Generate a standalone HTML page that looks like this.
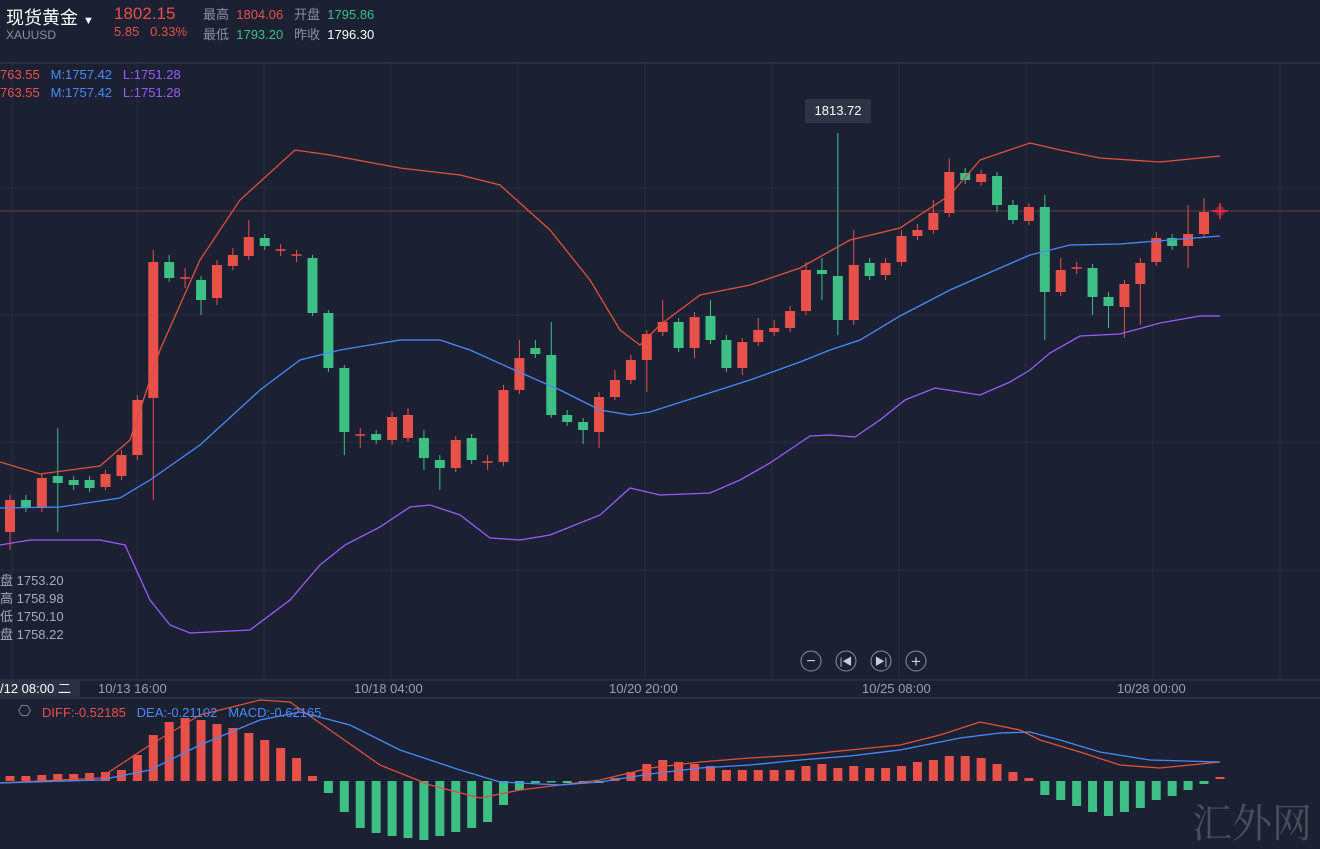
<!DOCTYPE html><html><head><meta charset="utf-8"><style>
body{margin:0;background:#1b2132;width:1320px;height:846px;overflow:hidden;font-family:"Liberation Sans","Noto Sans CJK SC",sans-serif}
.t{position:absolute;white-space:nowrap;font-size:13px}
</style></head><body>
<svg id="s" width="1320" height="846" style="position:absolute;left:0;top:0"></svg>
<div class="t" style="left:6px;top:4px;font-size:18px;color:#fff">现货黄金 <span style="font-size:11px">▼</span></div>
<div class="t" style="left:6px;top:28px;color:#8a90a0;font-size:12px">XAUUSD</div>
<div class="t" style="left:114px;top:4px;font-size:17px;color:#e8504a">1802.15</div>
<div class="t" style="left:114px;top:24px;color:#e8504a">5.85 &nbsp;&nbsp;0.33%</div>
<div class="t" style="left:203px;top:4px;color:#8a90a0">最高 <span style="color:#e8504a">&nbsp;1804.06</span> &nbsp;&nbsp;开盘 <span style="color:#3dbf86">&nbsp;1795.86</span></div>
<div class="t" style="left:203px;top:24px;color:#8a90a0">最低 <span style="color:#3dbf86">&nbsp;1793.20</span> &nbsp;&nbsp;昨收 <span style="color:#fff">&nbsp;1796.30</span></div>
<div class="t" style="left:0;top:67px;color:#e8504a">763.55 &nbsp;&nbsp;<span style="color:#4a8aff">M:1757.42</span> &nbsp;&nbsp;<span style="color:#9b5cff">L:1751.28</span></div>
<div class="t" style="left:0;top:85px;color:#e8504a">763.55 &nbsp;&nbsp;<span style="color:#4a8aff">M:1757.42</span> &nbsp;&nbsp;<span style="color:#9b5cff">L:1751.28</span></div>
<div class="t" style="left:0;top:572px;color:#aab;line-height:18px">盘 1753.20<br>高 1758.98<br>低 1750.10<br>盘 1758.22</div>
<div class="t" style="left:0;top:680px;width:80px;height:18px;background:#2a3142;color:#fff;line-height:18px">/12 08:00 二</div>
<div class="t" style="left:98px;top:681px;color:#9aa0b0">10/13 16:00</div>
<div class="t" style="left:354px;top:681px;color:#9aa0b0">10/18 04:00</div>
<div class="t" style="left:609px;top:681px;color:#9aa0b0">10/20 20:00</div>
<div class="t" style="left:862px;top:681px;color:#9aa0b0">10/25 08:00</div>
<div class="t" style="left:1117px;top:681px;color:#9aa0b0">10/28 00:00</div>
<div class="t" style="left:42px;top:705px;color:#e8504a">DIFF:-0.52185 &nbsp;&nbsp;<span style="color:#4a8aff">DEA:-0.21102 &nbsp;&nbsp;MACD:-0.62165</span></div>
<div class="t" style="left:18px;top:702px;color:#889;font-size:15px">⎔</div>
<div class="t" style="left:805px;top:99px;width:66px;height:24px;background:#2c3446;color:#fff;line-height:24px;text-align:center">1813.72</div>
<div class="t" style="left:1192px;top:792px;font-size:40px;color:#4a4f5c;font-family:'Noto Serif CJK SC',serif">汇外网</div>
<script>
const s=document.getElementById('s');let h='';
const L=(x1,y1,x2,y2,c,w)=>h+=`<line x1="${x1}" y1="${y1}" x2="${x2}" y2="${y2}" stroke="${c}" stroke-width="${w||1}"/>`;
[12,137,264,391,518,645,772,899,1026,1153,1280].forEach(x=>L(x,63,x,680,'#262d3e'));
[188,315,442,570].forEach(y=>L(0,y,1320,y,'#262d3e'));
L(0,63,1320,63,'#3a4152');L(0,680,1320,680,'#2f3647');L(0,698,1320,698,'#3a4152');
L(0,211,1320,211,'#6a3a40');
const R='#e8504a',G='#3dbf86';
const c=[['r',500,532,495,550],['g',500,508,495,512],['r',478,508,474,512],['g',476,483,428,532],['g',480,485,476,490],['g',480,488,476,492],['r',474,487,470,490],['r',455,476,450,480],['r',400,455,395,460],['r',262,398,250,500],['g',262,278,255,282],['d',278,278,268,288],['g',280,300,276,315],['r',265,298,260,305],['r',255,266,248,270],['r',237,256,220,260],['g',238,246,234,250],['d',250,250,244,256],['d',255,255,250,262],['g',258,313,255,316],['g',313,368,310,372],['g',368,432,365,455],['d',435,435,428,448],['g',434,440,430,444],['r',417,440,412,445],['r',415,438,408,442],['g',438,458,430,470],['g',460,468,455,490],['r',440,468,436,472],['g',438,460,434,464],['d',462,462,455,470],['r',390,462,385,466],['r',358,390,340,394],['g',348,354,340,358],['g',355,415,322,418],['g',415,422,410,426],['g',422,430,418,444],['r',397,432,392,448],['r',380,397,370,400],['r',360,380,355,384],['r',334,360,330,392],['r',322,332,300,336],['g',322,348,318,352],['r',317,348,312,358],['g',316,340,300,344],['g',340,368,335,372],['r',342,368,338,375],['r',330,342,318,346],['r',328,332,320,336],['r',311,328,306,332],['r',270,311,262,315],['g',270,274,258,300],['g',276,320,133,335],['r',265,320,230,325],['g',263,276,258,280],['r',263,275,258,280],['r',236,262,230,266],['r',230,236,224,240],['r',213,230,200,234],['r',172,213,158,217],['g',173,180,168,184],['r',174,182,170,186],['g',176,205,172,212],['g',205,220,200,224],['r',207,221,203,225],['g',207,292,195,340],['r',270,292,258,296],['d',268,268,262,274],['g',268,297,264,315],['g',297,306,292,328],['r',284,307,280,338],['r',263,284,258,325],['r',238,262,232,266],['g',238,246,234,250],['r',234,246,205,268],['r',212,234,198,238]];
const mac=[776,776,775,774,774,773,772,770,755,735,722,718,720,724,728,733,740,748,758,776,793,812,828,833,836,838,840,836,832,828,822,805,790,783,782,783,782,783,778,772,764,760,762,764,766,770,770,770,770,770,766,764,768,766,768,768,766,762,760,756,756,758,764,772,778,795,800,806,812,816,812,808,800,796,790,784];
c.forEach((d,i)=>{const x=10+i*15.92;const col=d[0]=='g'?G:R;
L(x,d[3],x,d[4],col);
if(d[0]=='d')L(x-5,d[1],x+5,d[1],col,1.5);else h+=`<rect x="${x-5}" y="${d[1]}" width="10" height="${Math.max(d[2]-d[1],1)}" fill="${col}"/>`;
const m=mac[i];const z=781;h+=`<rect x="${x-4.5}" y="${Math.min(m,z)}" width="9" height="${Math.max(Math.abs(m-z),1.5)}" fill="${m<z?R:G}"/>`;});
h+=`<rect x="1215.5" y="777" width="9" height="2" fill="${R}"/>`;
const P=(pts,col)=>h+=`<polyline fill="none" stroke="${col}" stroke-width="1.3" points="${pts}"/>`;
P('0,462 40,474 100,466 130,440 160,350 200,260 240,200 295,150 330,155 400,168 460,175 500,185 550,230 590,280 620,330 640,345 660,325 700,295 750,285 800,268 850,240 900,228 950,195 980,160 1030,143 1060,150 1100,158 1160,162 1220,156','#e0503a');
P('0,508 60,507 120,498 150,480 200,445 260,390 300,360 340,350 400,340 440,340 470,350 510,368 560,390 600,410 630,415 650,412 700,396 750,380 800,362 830,350 860,340 900,316 950,290 1000,268 1030,255 1070,245 1120,244 1170,240 1220,236','#4a8aff');
P('0,545 30,540 100,540 125,545 150,600 170,625 190,633 250,630 290,600 320,565 345,545 380,527 410,507 430,505 460,515 490,538 520,540 550,535 600,515 630,488 660,495 710,493 740,480 770,463 810,436 830,435 855,437 880,420 905,400 935,388 980,395 1010,382 1030,370 1050,353 1080,336 1120,334 1160,323 1200,316 1220,316','#9b5cff');
P('0,783 100,778 150,745 200,715 260,700 290,702 330,730 380,765 430,785 480,798 520,790 560,785 600,780 650,768 700,762 750,758 800,755 850,750 900,745 940,735 980,722 1020,730 1040,740 1080,752 1120,765 1160,768 1220,762','#e0503a');
P('0,783 100,780 150,770 200,745 260,720 300,712 350,725 400,750 460,770 500,782 560,785 600,782 650,774 700,768 750,765 800,760 850,756 900,750 960,738 1000,733 1030,732 1060,740 1100,752 1150,760 1220,762','#4a8aff');
L(1212,211,1228,211,'#ff3040',1.5);L(1220,203,1220,219,'#ff3040',1.5);
h+=`<circle cx="1220" cy="211" r="5" fill="#ff3040" opacity=".4"/>`;
[811,846,881,916].forEach((x,i)=>{h+=`<circle cx="${x}" cy="661" r="10" fill="#1b2132" stroke="#8a90a0"/>`;});
h+=`<text x="811" y="666" fill="#ccd" font-size="16" text-anchor="middle">−</text><text x="846" y="665" fill="#ccd" font-size="10" text-anchor="middle">|◀</text><text x="881" y="665" fill="#ccd" font-size="10" text-anchor="middle">▶|</text><text x="916" y="667" fill="#ccd" font-size="17" text-anchor="middle">+</text>`;
s.innerHTML=h;
</script></body></html>
